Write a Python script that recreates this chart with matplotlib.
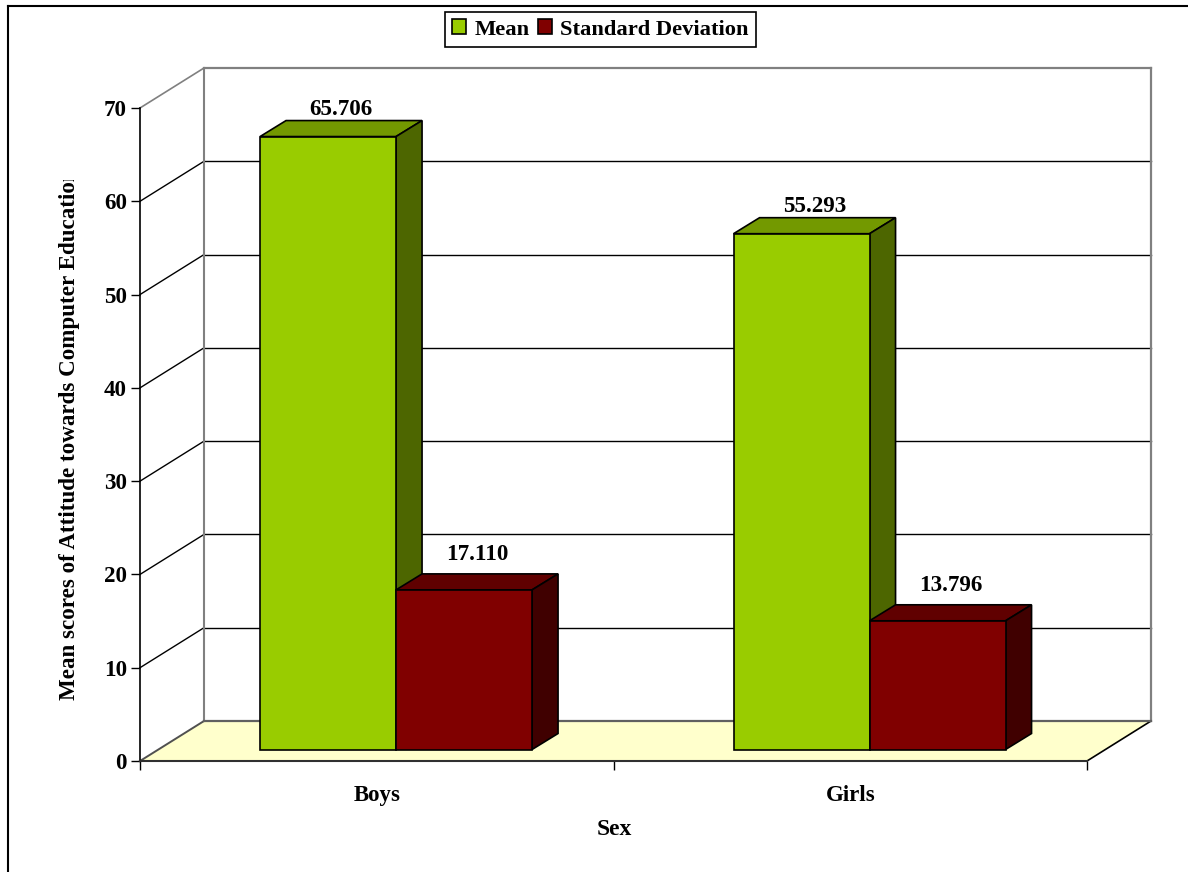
import matplotlib
matplotlib.use("Agg")
import matplotlib.pyplot as plt
from matplotlib.lines import Line2D
from matplotlib.patches import Patch, Polygon
from matplotlib.transforms import Bbox

categories = ["Boys", "Girls"]
series_names = ["Mean", "Standard Deviation"]
mean_values = [65.706, 55.293]
sd_values = [17.110, 13.796]
y_ticks = [0, 10, 20, 30, 40, 50, 60, 70]

W, H = 1188, 872
GREEN = ("#99CC00", "#739900", "#4D6600")  # front, top, side
MAROON = ("#800000", "#600000", "#400000")
GRAY = "#808080"
FLOOR = "#FFFFCC"

plt.rcParams["font.family"] = ["Liberation Serif", "DejaVu Serif"]
plt.rcParams["font.weight"] = "bold"

fig = plt.figure(figsize=(W / 100, H / 100), dpi=100)
ax = fig.add_axes([140 / W, 1 - 761 / H, 947 / W, 653 / H])
ax.set_xlim(0, 2)
ax.set_ylim(0, 70)
ax.patch.set_alpha(0)

# pixels per data unit, used for the oblique depth offset
PX = 947 / 2
PY = 653 / 70
WALL_DX, WALL_DY = 64, 40
BAR_DX, BAR_DY = 19.3, 11.5
BAR_DEPTH_X, BAR_DEPTH_Y = 26, 16
BAR_W = 136 / PX


def shift(x, y, dx, dy):
    return x + dx / PX, y + dy / PY


def wall_line(x0, y0, color, lw, z=1):
    # line from the front plane to the back wall
    x1, y1 = shift(x0, y0, WALL_DX, WALL_DY)
    ax.add_line(Line2D([x0, x1], [y0, y1], color=color, lw=lw, zorder=z, clip_on=False))


def draw_bar(x, value, colors):
    x0, y0 = shift(x, 0, BAR_DX, BAR_DY)
    x1, y1 = x0 + BAR_W, y0 + value
    dx, dy = BAR_DEPTH_X / PX, BAR_DEPTH_Y / PY
    faces = [
        ([(x0, y1), (x1, y1), (x1 + dx, y1 + dy), (x0 + dx, y1 + dy)], colors[1]),
        ([(x1, y0), (x1 + dx, y0 + dy), (x1 + dx, y1 + dy), (x1, y1)], colors[2]),
        ([(x0, y0), (x1, y0), (x1, y1), (x0, y1)], colors[0]),
    ]
    for pts, c in faces:
        ax.add_patch(Polygon(pts, closed=True, facecolor=c, edgecolor="black",
                             lw=1.2, zorder=3, joinstyle="miter", clip_on=False))
    return x0 + BAR_W / 2 + dx / 2, y1 + dy


# floor
bx0, by0 = shift(0, 0, WALL_DX, WALL_DY)
bx1, by1 = shift(2, 0, WALL_DX, WALL_DY)
ax.add_patch(Polygon([(0, 0), (2, 0), (bx1, by1), (bx0, by0)], closed=True,
                     facecolor=FLOOR, edgecolor="none", zorder=0, clip_on=False))

# gridlines on both walls
for t in y_ticks[1:-1]:
    wall_line(0, t, "black", 1.0)
    gx0, gy = shift(0, t, WALL_DX, WALL_DY)
    gx1, _ = shift(2, t, WALL_DX, WALL_DY)
    ax.add_line(Line2D([gx0, gx1], [gy, gy], color="black", lw=1.0, zorder=1, clip_on=False))

# wall outlines
tx0, ty = shift(0, 70, WALL_DX, WALL_DY)
tx1, _ = shift(2, 70, WALL_DX, WALL_DY)
wall_line(0, 70, GRAY, 1.2)
wall_line(0, 0, "#505050", 1.4)
wall_line(2, 0, "black", 1.2)
ax.add_line(Line2D([tx0, tx1], [ty, ty], color=GRAY, lw=1.6, zorder=2, clip_on=False))
ax.add_line(Line2D([tx0, tx0], [by0, ty], color=GRAY, lw=1.5, zorder=2, clip_on=False))
ax.add_line(Line2D([tx1, tx1], [by0, ty], color=GRAY, lw=1.6, zorder=2, clip_on=False))
ax.add_line(Line2D([bx0, bx1], [by0, by0], color="#606060", lw=1.6, zorder=2, clip_on=False))

# bars with their value labels
for i in range(len(categories)):
    tip_x, tip_y = draw_bar(i + 0.5 - BAR_W, mean_values[i], GREEN)
    ax.text(tip_x, tip_y + 11 / PY, f"{mean_values[i]:.3f}", ha="center", va="center",
            fontsize=16.6, fontweight="bold", zorder=4)
    tip_x, tip_y = draw_bar(i + 0.5, sd_values[i], MAROON)
    ax.text(tip_x, tip_y + 19 / PY, f"{sd_values[i]:.3f}", ha="center", va="center",
            fontsize=16.6, fontweight="bold", zorder=4)

# axes
for side in ("top", "right"):
    ax.spines[side].set_visible(False)
ax.spines["left"].set_linewidth(1.2)
ax.spines["bottom"].set_linewidth(1.5)
ax.spines["bottom"].set_color("#303030")
ax.set_yticks(y_ticks)
ax.tick_params(axis="y", length=6.5, width=1.0, pad=3, labelsize=16.6)
ax.set_xticks([0, 1, 2])
ax.set_xticklabels([])
ax.set_xticks([0.5, 1.5], minor=True)
ax.set_xticklabels(categories, minor=True, fontsize=16.5, fontweight="bold")
ax.tick_params(axis="x", which="major", length=6.5, width=1.0)
ax.tick_params(axis="x", which="minor", length=0, pad=17)
for lab in ax.get_yticklabels():
    lab.set_fontweight("bold")

fig.text(614 / W, 1 - 829 / H, "Sex", ha="center", va="center", fontsize=17, fontweight="bold")

# the long axis title runs out of its slot and is cut off at the top
ylab = fig.text(69.5 / W, 1 - 700 / H, "Mean scores of Attitude towards Computer Education",
                rotation=90, ha="center", va="bottom", fontsize=16.6, fontweight="bold")
ylab.set_clip_box(Bbox.from_extents(0, 0, W, H - 180))
ylab.set_clip_on(True)

# outer chart border, open towards the right and bottom
fig.add_artist(Line2D([8 / W, 8 / W], [0, 1 - 6 / H], color="black", lw=1.5))
fig.add_artist(Line2D([8 / W, 1], [1 - 6 / H, 1 - 6 / H], color="black", lw=1.5))

handles = [Patch(facecolor=GREEN[0], edgecolor="black", lw=1.2, label=series_names[0]),
           Patch(facecolor=MAROON[0], edgecolor="black", lw=1.2, label=series_names[1])]
leg = fig.legend(handles=handles, ncols=2, loc="center", bbox_to_anchor=(600.5 / W, 1 - 29.5 / H),
                 fontsize=16.2, fancybox=False, framealpha=1, edgecolor="black",
                 handlelength=0.62, handleheight=0.62, handletextpad=0.35,
                 columnspacing=0.4, borderpad=0.34, borderaxespad=0)
leg.get_frame().set_linewidth(1.2)

fig.savefig("out.png", dpi=100)
